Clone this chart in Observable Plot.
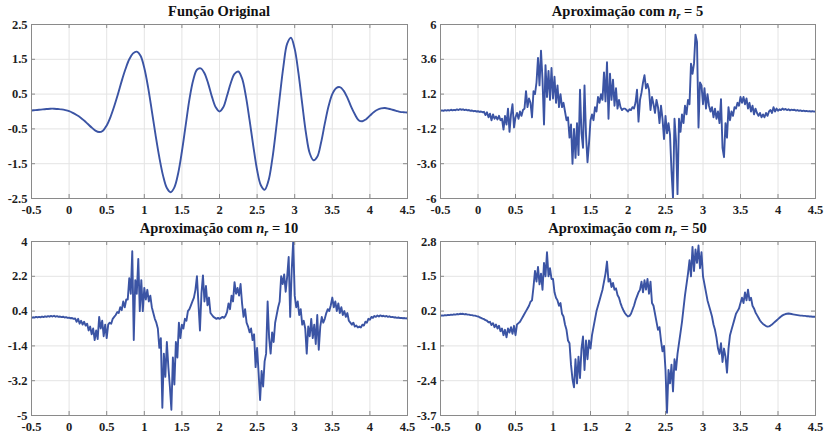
<!DOCTYPE html>
<html><head><meta charset="utf-8">
<script src="https://cdn.jsdelivr.net/npm/d3@7"></script>
<script src="https://cdn.jsdelivr.net/npm/@observablehq/plot@0.6"></script>
<style>
body{margin:0;background:#fff;}
#fig{position:relative;width:824px;height:436px;overflow:hidden;font-family:"Liberation Serif",serif;background:#fff;}
.panel{position:absolute;}
.title{position:absolute;width:300px;text-align:center;font-size:14.5px;line-height:14.5px;font-weight:bold;color:#111;white-space:nowrap;}
.title sub{font-size:10px;vertical-align:baseline;position:relative;top:3px;}
</style></head><body><div id="fig"></div><script>
// ---------- data ----------
const xTicks = [-0.5, 0, 0.5, 1, 1.5, 2, 2.5, 3, 3.5, 4, 4.5];
const yTicksOrig = [-2.5, -1.5, -0.5, 0.5, 1.5, 2.5];
const yTicksN5 = [-6, -3.6, -1.2, 1.2, 3.6, 6];
const yTicksN10 = [-5, -3.2, -1.4, 0.4, 2.2, 4];
const yTicksN50 = [-3.7, -2.4, -1.1, 0.2, 1.5, 2.8];

const titles = ["Função Original", "5", "10", "50"];

// original function, sampled every 0.05 from -0.5 to 4.5
const xOrig = [-0.5,-0.45,-0.4,-0.35,-0.3,-0.25,-0.2,-0.15,-0.1,-0.05,
  0,0.05,0.1,0.15,0.2,0.25,0.3,0.35,0.4,0.45,
  0.5,0.55,0.6,0.65,0.7,0.75,0.8,0.85,0.9,0.95,
  1,1.05,1.1,1.15,1.2,1.25,1.3,1.35,1.4,1.45,
  1.5,1.55,1.6,1.65,1.7,1.75,1.8,1.85,1.9,1.95,
  2,2.05,2.1,2.15,2.2,2.25,2.3,2.35,2.4,2.45,
  2.5,2.55,2.6,2.65,2.7,2.75,2.8,2.85,2.9,2.95,
  3,3.05,3.1,3.15,3.2,3.25,3.3,3.35,3.4,3.45,
  3.5,3.55,3.6,3.65,3.7,3.75,3.8,3.85,3.9,3.95,
  4,4.05,4.1,4.15,4.2,4.25,4.3,4.35,4.4,4.45,4.5];
const yOrig = [0.03,0.04,0.05,0.06,0.07,0.08,0.08,0.07,0.06,0.04,
  0.01,-0.04,-0.1,-0.17,-0.26,-0.36,-0.46,-0.55,-0.59,-0.55,
  -0.4,-0.16,0.15,0.5,0.88,1.22,1.5,1.67,1.72,1.6,
  1.25,0.7,0.02,-0.68,-1.32,-1.85,-2.2,-2.32,-2.18,-1.78,
  -1.15,-0.4,0.35,0.9,1.2,1.24,1.1,0.8,0.42,0.12,
  0.0,0.12,0.45,0.82,1.08,1.15,0.95,0.45,-0.25,-1.0,
  -1.68,-2.12,-2.25,-2.0,-1.4,-0.55,0.4,1.3,1.95,2.12,
  1.8,1.1,0.22,-0.62,-1.2,-1.4,-1.3,-0.9,-0.35,0.15,
  0.5,0.67,0.7,0.6,0.4,0.14,-0.08,-0.25,-0.28,-0.22,
  -0.12,-0.02,0.05,0.09,0.1,0.08,0.05,0.02,-0.01,-0.02,-0.03];

// approximations, sampled every 0.02 from -0.5 to 4.5
const sampleStart = -0.5, sampleStep = 0.02;
const yN5 = [0.05,0.08,0.04,0.09,0.06,0.1,0.07,0.12,0.08,0.11,
  0.09,0.14,0.1,0.16,0.12,0.15,0.1,0.13,0.08,0.1,
  0.05,0.07,0.02,0.04,0.0,0.02,-0.03,0.0,-0.05,-0.02,
  -0.25,-0.05,-0.4,-0.15,-0.6,-0.2,-0.5,-0.35,-0.55,-0.3,
  -0.6,-0.5,-1.25,-0.3,-0.9,0.2,-1.4,-0.2,0.5,-1.1,
  -0.4,-0.1,-0.5,0.0,-0.3,0.1,0.2,1.4,0.3,0.9,
  0.6,-0.4,1.4,1.2,2.0,3.7,1.8,4.2,2.2,-0.9,
  3.2,1.0,2.8,0.8,3.0,0.9,2.4,0.6,1.8,0.3,
  1.2,0.3,0.6,0.0,-0.6,-0.4,-1.8,-0.9,-3.6,-1.2,
  -3.2,-0.8,-3.0,1.5,-1.5,-2.5,1.8,-1.6,-3.5,-2.2,
  -0.6,-0.2,-0.6,0.3,0.0,1.0,0.6,1.2,0.8,2.7,
  0.7,3.4,-0.5,2.6,0.8,2.2,0.4,1.6,0.2,0.8,
  0.3,0.1,0.2,0.2,0.1,0.0,0.15,0.1,0.3,0.2,
  0.6,1.5,-0.7,0.8,1.3,2.0,2.5,1.6,1.9,1.5,
  0.1,1.0,0.5,-0.1,0.8,0.3,-0.8,0.4,-0.5,-1.9,
  -0.3,-1.5,-0.8,-1.6,-4.1,-6.0,-0.5,-2.0,-5.7,-0.5,
  -1.4,-0.2,-0.8,0.4,-0.2,0.8,0.5,3.3,2.6,3.3,
  5.3,4.8,-1.1,2.0,1.8,0.5,1.6,0.2,1.2,0.4,
  0.0,0.3,-0.4,0.2,-0.5,0.0,-0.8,0.85,-2.5,-3.15,
  -0.8,-1.8,0.3,-0.6,0.0,-0.3,0.3,0.2,0.6,0.4,
  1.0,0.6,1.0,0.5,0.9,0.2,0.6,0.0,0.4,-0.2,
  0.2,-0.1,-0.3,-0.1,-0.4,-0.2,-0.4,-0.1,-0.3,0.0,
  0.1,-0.1,0.3,0.0,0.2,0.05,0.15,0.1,0.2,0.12,
  0.18,0.1,0.15,0.08,0.13,0.1,0.12,0.06,0.1,0.05,
  0.08,0.03,0.06,0.02,0.04,0.01,0.03,0.0,0.02,-0.01,
  0.0];
const yN10 = [0.05,0.08,0.06,0.1,0.07,0.1,0.08,0.12,0.09,0.13,
  0.1,0.14,0.11,0.15,0.12,0.16,0.11,0.14,0.1,0.12,
  0.09,0.11,0.07,0.09,0.05,0.06,0.03,0.04,0.0,0.02,
  -0.15,0.0,-0.25,-0.1,-0.3,-0.15,-0.35,-0.25,-0.6,-0.4,
  -0.8,-0.5,-1.1,-0.6,-1.05,0.1,-0.5,-0.1,-0.9,-0.3,
  -1.0,-0.3,-0.2,-0.25,0.0,0.1,0.2,0.35,0.3,0.6,
  0.45,0.9,0.6,1.0,1.0,2.1,1.3,3.5,-1.1,2.0,
  1.3,3.1,0.4,2.0,0.4,1.6,1.0,1.5,0.9,1.2,
  0.6,0.3,0.0,-0.2,-0.5,-1.5,-1.0,-4.6,-1.8,-3.0,
  -1.2,-2.5,-3.5,-4.7,-2.0,-3.4,-1.2,-2.0,-0.2,-1.0,
  -0.3,-0.5,0.0,-0.1,0.4,0.5,0.7,0.9,1.1,1.5,
  2.2,0.8,-0.6,1.3,2.25,0.9,1.7,0.7,1.1,0.3,
  0.2,0.1,0.05,0.0,0.05,0.0,0.05,0.1,0.05,0.15,
  0.35,0.8,0.5,1.2,0.9,1.9,1.3,1.6,1.2,1.8,
  0.8,0.1,0.5,-0.2,-0.4,-0.7,-0.5,-1.1,-0.8,-2.5,
  -1.5,-2.8,-4.2,-2.7,-3.5,-2.2,-1.8,0.9,-1.0,-1.8,
  -0.7,-1.2,-0.2,0.2,0.6,0.9,2.2,1.8,2.3,1.4,
  2.2,3.2,0.1,2.5,4.0,1.2,0.6,0.9,0.2,0.5,
  -0.3,-0.1,-0.5,-1.8,-0.4,-0.9,0.0,-1.0,-0.3,-1.3,
  0.2,-1.6,-0.4,0.1,-0.2,0.0,0.3,0.5,0.4,0.7,
  1.1,0.6,0.9,0.4,0.8,0.3,0.6,0.2,0.4,0.1,
  0.3,-0.1,-0.2,-0.3,-0.2,-0.4,-0.35,-0.45,-0.4,-0.45,
  -0.3,-0.35,-0.15,-0.2,0.0,-0.05,0.1,0.05,0.15,0.1,
  0.17,0.12,0.18,0.13,0.16,0.12,0.15,0.1,0.13,0.09,
  0.1,0.07,0.08,0.05,0.07,0.04,0.05,0.03,0.04,0.02,
  0.03];
const yN50 = [0.02,0.04,0.03,0.05,0.04,0.06,0.05,0.07,0.06,0.08,
  0.07,0.09,0.08,0.1,0.09,0.1,0.08,0.09,0.07,0.07,
  0.05,0.05,0.03,0.03,0.01,0.0,-0.03,-0.05,-0.08,-0.1,
  -0.14,-0.16,-0.22,-0.2,-0.32,-0.25,-0.4,-0.3,-0.45,-0.35,
  -0.55,-0.45,-0.7,-0.5,-0.78,-0.45,-0.6,-0.4,-0.65,-0.35,
  -0.7,-0.3,-0.25,-0.2,-0.1,0.0,0.1,0.2,0.3,0.4,
  0.55,0.6,1.1,1.7,1.3,1.85,1.2,1.6,1.0,2.0,
  1.5,2.4,1.5,1.8,1.4,1.4,0.9,0.7,0.6,0.4,
  0.5,0.1,0.0,-0.3,-0.5,-0.9,-1.0,-1.8,-2.35,-2.65,
  -1.6,-2.5,-1.5,-2.3,-1.2,-0.75,-2.0,-0.9,-1.6,-0.9,
  -1.2,-0.7,-0.4,-0.1,0.2,0.4,0.6,0.8,1.0,1.3,
  1.6,2.05,1.3,1.4,1.1,1.25,1.0,1.05,0.8,0.7,
  0.5,0.35,0.22,0.12,0.05,0.0,0.02,0.1,0.25,0.4,
  0.6,0.75,0.9,1.0,1.3,0.9,1.35,1.0,1.4,0.85,
  1.3,0.5,0.4,0.1,-0.2,-0.5,-0.4,-0.9,-1.3,-1.1,
  -2.0,-3.6,-2.0,-2.5,-1.8,-2.8,-1.6,-2.0,-1.4,-1.0,
  -0.6,-0.2,0.3,0.8,1.2,1.6,2.1,1.5,2.6,1.7,
  2.5,2.0,2.65,1.8,2.4,1.5,1.2,0.9,0.6,0.4,
  0.2,0.0,-0.3,-0.5,-0.8,-1.2,-1.4,-1.0,-1.7,-1.2,
  -1.5,-2.1,-1.2,-0.7,-0.5,-0.3,-0.1,0.1,0.2,0.3,
  0.5,0.7,0.5,0.9,0.6,1.0,0.6,0.7,0.4,0.3,
  0.15,0.05,-0.05,-0.15,-0.22,-0.28,-0.32,-0.36,-0.38,-0.37,
  -0.34,-0.3,-0.25,-0.2,-0.15,-0.1,-0.05,0.0,0.04,0.07,
  0.09,0.1,0.11,0.1,0.09,0.08,0.07,0.06,0.05,0.04,
  0.03,0.03,0.02,0.02,0.01,0.01,0.0,0.0,-0.01,-0.01,
  -0.01];

// ---------- drawing ----------
const LINE = "#3b54a4", GRID = "#e4e4e4", FRAME = "#8a8a8a", TEXT = "#1e1e1e";
const fig = document.getElementById("fig");
const sampled = ys => ys.map((y, i) => ({x: +(sampleStart + i * sampleStep).toFixed(4), y}));
const fmt = d => String(d);

function panel(data, yTicks, curve, left, top, mL, mR, mT, mB) {
  const W = 412, H = 218;
  const ph = H - mT - mB, pw = W - mL - mR;
  const tl = 4;
  const svg = Plot.plot({
    width: W, height: H,
    marginLeft: mL, marginRight: mR, marginTop: mT, marginBottom: mB,
    style: {fontFamily: "'Liberation Serif', serif", fontSize: "12.5px", fontWeight: "bold",
            overflow: "visible", background: "transparent", color: TEXT},
    x: {domain: [-0.5, 4.5]},
    y: {domain: [yTicks[0], yTicks[yTicks.length - 1]]},
    marks: [
      Plot.gridX(xTicks, {stroke: GRID, strokeOpacity: 1}),
      Plot.gridY(yTicks, {stroke: GRID, strokeOpacity: 1}),
      Plot.line(data, {x: "x", y: "y", stroke: LINE, strokeWidth: 1.9, curve, clip: true}),
      Plot.tickX(xTicks, {x: d => d, insetTop: ph - tl, stroke: FRAME}),
      Plot.tickX(xTicks, {x: d => d, insetBottom: ph - tl, stroke: FRAME}),
      Plot.tickY(yTicks, {y: d => d, insetRight: pw - tl, stroke: FRAME}),
      Plot.tickY(yTicks, {y: d => d, insetLeft: pw - tl, stroke: FRAME}),
      Plot.frame({stroke: FRAME}),
      Plot.axisX(xTicks, {tickSize: 0, tickPadding: 7, tickFormat: fmt, fill: TEXT, label: null}),
      Plot.axisY(yTicks, {tickSize: 0, tickPadding: 4, tickFormat: fmt, fill: TEXT, label: null})
    ]
  });
  svg.classList.add("panel");
  svg.style.left = left + "px";
  svg.style.top = top + "px";
  fig.appendChild(svg);
  return {cx: left + mL + pw / 2};
}

function addTitle(html, cx, top) {
  const d = document.createElement("div");
  d.className = "title";
  d.style.left = (cx - 150) + "px";
  d.style.top = top + "px";
  d.innerHTML = html;
  fig.appendChild(d);
}

const origData = xOrig.map((x, i) => ({x, y: yOrig[i]}));
const p1 = panel(origData, yTicksOrig, "catmull-rom", 0, 0, 31, 5, 24, 20);
const p2 = panel(sampled(yN5), yTicksN5, "linear", 412, 0, 28, 9, 24, 20);
const p3 = panel(sampled(yN10), yTicksN10, "linear", 0, 218, 31, 5, 23, 21);
const p4 = panel(sampled(yN50), yTicksN50, "linear", 412, 218, 28, 9, 23, 21);

const approx = n => `Aproximação com <i>n<sub>r</sub></i> = ${n}`;
addTitle(titles[0], p1.cx, 4);
addTitle(approx(titles[1]), p2.cx, 4);
addTitle(approx(titles[2]), p3.cx, 221);
addTitle(approx(titles[3]), p4.cx, 221);
</script></body></html>
